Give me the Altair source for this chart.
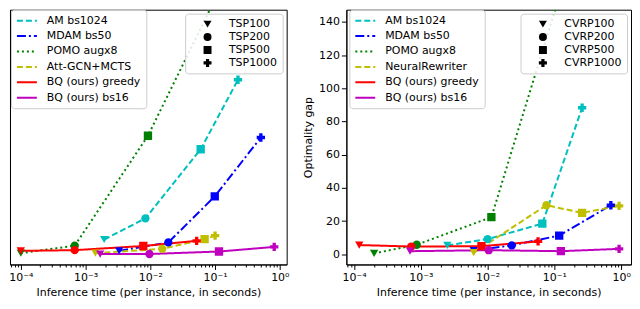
import altair as alt
import pandas as pd

# ---------------- data ----------------
tsp_sizes = ["TSP100", "TSP200", "TSP500", "TSP1000"]
cvrp_sizes = ["CVRP100", "CVRP200", "CVRP500", "CVRP1000"]

tsp_methods = ["AM bs1024", "MDAM bs50", "POMO augx8", "Att-GCN+MCTS",
               "BQ (ours) greedy", "BQ (ours) bs16"]
cvrp_methods = ["AM bs1024", "MDAM bs50", "POMO augx8", "NeuralRewriter",
                "BQ (ours) greedy", "BQ (ours) bs16"]

# TSP: inference time per instance (s) and optimality gap (%)
tsp_am_time = [1.94e-3, 8.4e-3, 0.060, 0.226]
tsp_am_gap = [2.5, 6.1, 17.9, 29.75]
tsp_mdam_time = [3.3e-3, 0.019, 0.099, 0.51]
tsp_mdam_gap = [0.56, 2.0, 9.85, 19.9]
tsp_pomo_time = [1.0e-4, 6.8e-4, 9.2e-3, 0.165]
tsp_pomo_gap = [0.18, 1.44, 20.2, 48.4]
tsp_attgcn_time = [1.42e-3, 0.0153, 0.069, 0.10]
tsp_attgcn_gap = [0.18, 0.9, 2.55, 3.17]
tsp_bqg_time = [1.0e-4, 6.8e-4, 7.8e-3, 0.052]
tsp_bqg_gap = [0.56, 0.68, 1.39, 2.27]
tsp_bqb_time = [1.68e-3, 9.7e-3, 0.115, 0.82]
tsp_bqb_gap = [0.02, 0.02, 0.45, 1.23]

# CVRP
cvrp_am_time = [2.5e-3, 0.010, 0.066, 0.26]
cvrp_am_gap = [5.4, 9.2, 18.5, 88.3]
cvrp_mdam_time = [6.2e-3, 0.023, 0.118, 0.70]
cvrp_mdam_gap = [2.3, 5.4, 11.3, 29.6]
cvrp_pomo_time = [2.0e-4, 8.7e-4, 0.0114, 0.162]
cvrp_pomo_gap = [0.6, 5.8, 22.4, 173.3]
cvrp_nr_time = [6.2e-3, 0.076, 0.26, 0.93]
cvrp_nr_gap = [1.0, 29.6, 25.0, 29.2]
cvrp_bqg_time = [1.2e-4, 7.2e-4, 8.1e-3, 0.057]
cvrp_bqg_gap = [5.6, 4.7, 4.9, 7.8]
cvrp_bqb_time = [6.9e-4, 0.0104, 0.125, 0.93]
cvrp_bqb_gap = [1.9, 2.5, 1.9, 3.3]

major_ticks = [1e-4, 1e-3, 1e-2, 1e-1, 1.0]
major_labels = ["10\u207b\u2074", "10\u207b\u00b3", "10\u207b\u00b2", "10\u207b\u00b9", "10\u2070"]
gap_ticks = [0, 20, 40, 60, 80, 100, 120, 140]

# ---------------- styling ----------------
colors = ["#00bfbf", "#0000ff", "#008000", "#bfbf00", "#ff0000", "#bf00bf"]
dashes = [[6, 3], [9, 3, 2, 3], [2, 3], [6, 3], [1, 0], [1, 0]]
shapes = ["triangle-down", "circle", "square", "cross"]
FONT = "DejaVu Sans"
LEG_FILL = "rgba(255,255,255,0.85)"
LEG_STROKE = "#cccccc"


def build_df(methods, sizes, times, gaps):
    rows = []
    for m, ts, gs in zip(methods, times, gaps):
        for s, t, g in zip(sizes, ts, gs):
            rows.append({"method": m, "size": s, "time": t, "gap": g})
    return pd.DataFrame(rows)


tsp_df = build_df(
    tsp_methods, tsp_sizes,
    [tsp_am_time, tsp_mdam_time, tsp_pomo_time, tsp_attgcn_time, tsp_bqg_time, tsp_bqb_time],
    [tsp_am_gap, tsp_mdam_gap, tsp_pomo_gap, tsp_attgcn_gap, tsp_bqg_gap, tsp_bqb_gap])
cvrp_df = build_df(
    cvrp_methods, cvrp_sizes,
    [cvrp_am_time, cvrp_mdam_time, cvrp_pomo_time, cvrp_nr_time, cvrp_bqg_time, cvrp_bqb_time],
    [cvrp_am_gap, cvrp_mdam_gap, cvrp_pomo_gap, cvrp_nr_gap, cvrp_bqg_gap, cvrp_bqb_gap])

# x-axis label expression (major ticks labelled, minor ticks blank)
label_expr = "''"
for v, lab in reversed(list(zip(major_ticks, major_labels))):
    label_expr = f"abs(datum.value - {v!r}) < {v * 1e-6!r} ? '{lab}' : ({label_expr})"
is_major = "abs(log(datum.value)/LN10 - round(log(datum.value)/LN10)) < 0.001"


def minor_ticks(lo, hi):
    out = []
    for d in range(-5, 1):
        for k in range(2, 10):
            v = k * 10.0 ** d
            if lo <= v <= hi:
                out.append(v)
    return out


def legend_common():
    return dict(title=None, padding=5,
                fillColor=LEG_FILL, strokeColor=LEG_STROKE,
                cornerRadius=3, labelFontSize=11, labelFont=FONT,
                labelColor="black", labelLimit=300)


def panel(df, methods, sizes, xdom, ydom, width, height, yaxis, leg_x):
    xvals = [v for v in major_ticks if xdom[0] <= v <= xdom[1]] + minor_ticks(*xdom)
    x = alt.X("time:Q",
              scale=alt.Scale(type="log", domain=xdom, nice=False),
              axis=alt.Axis(values=xvals, labelExpr=label_expr,
                            title="Inference time (per instance, in seconds)",
                            tickSize={"condition": {"test": is_major, "value": 5}, "value": 2.5},
                            labelPadding=2, titlePadding=4, labelFlush=False,
                            labelOverlap=False, grid=False))
    y = alt.Y("gap:Q", scale=alt.Scale(domain=ydom, nice=False, zero=False), axis=yaxis)
    cscale = alt.Scale(domain=methods, range=colors)
    dscale = alt.Scale(domain=methods, range=dashes)
    method_legend = alt.Legend(orient="none", legendX=leg_x, legendY=0,
                               symbolType="M-2.0,0H2.0",
                               symbolSize=100, symbolStrokeWidth=2, rowPadding=4.5,
                               symbolOffset=5, labelOffset=14, **legend_common())
    lines = alt.Chart(df).mark_line(clip=True, strokeWidth=2).encode(
        x=x, y=y,
        color=alt.Color("method:N", scale=cscale, legend=method_legend),
        strokeDash=alt.StrokeDash("method:N", scale=dscale, legend=method_legend),
    )
    shape_legend = alt.Legend(orient="top-right", offset=4, symbolSize=64,
                              symbolStrokeWidth=0, rowPadding=1,
                              symbolFillColor="black", symbolStrokeColor="black",
                              symbolOffset=12, labelOffset=16, **legend_common())
    points = alt.Chart(df).mark_point(filled=True, size=70, opacity=1, clip=True).encode(
        x=x, y=y,
        color=alt.Color("method:N", scale=cscale, legend=None),
        shape=alt.Shape("size:N", scale=alt.Scale(domain=sizes, range=shapes),
                        legend=shape_legend),
    )
    return alt.layer(lines, points).properties(width=width, height=height)


left = panel(tsp_df, tsp_methods, tsp_sizes,
             [10 ** -4.167, 10 ** 0.106], [-1.76, 41.7], 278, 256,
             alt.Axis(labels=False, ticks=False, title=None, grid=False), 1)
right = panel(cvrp_df, cvrp_methods, cvrp_sizes,
              [10 ** -4.114, 10 ** 0.147], [-6.1, 147.4], 286, 256,
              alt.Axis(values=gap_ticks, title="Optimality gap", tickSize=5,
                       labelPadding=2, titlePadding=5, grid=False), 3)

chart = (
    alt.hconcat(left, right, spacing=12)
    .properties(padding={"left": 0, "top": 0, "right": 0, "bottom": 0})
    .resolve_scale(color="independent", strokeDash="independent", shape="independent")
    .configure(font=FONT)
    .configure_view(stroke="black", strokeWidth=1)
    .configure_axis(domainColor="black", tickColor="black", labelColor="black",
                    titleColor="black", labelFontSize=11, titleFontSize=11,
                    titleFontWeight="normal", labelFont=FONT, titleFont=FONT)
    .configure_legend(fillColor=LEG_FILL, strokeColor=LEG_STROKE, cornerRadius=3,
                      padding=5, labelFont=FONT, labelFontSize=11)
)

chart.save("out.html", embed_options={"renderer": "svg", "actions": False})
